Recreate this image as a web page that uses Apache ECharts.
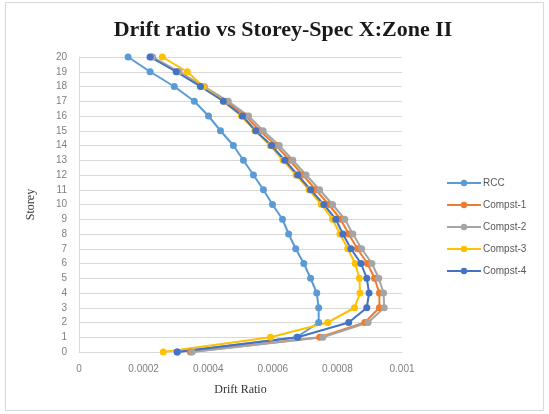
<!DOCTYPE html>
<html>
<head>
<meta charset="utf-8">
<script src="https://cdn.jsdelivr.net/npm/echarts@6/dist/echarts.min.js"></script>
<style>html,body{margin:0;padding:0;background:#fff}#c{width:549px;height:414px}</style>
</head>
<body>
<div id="c"></div>
<script>
var storeys = [0,1,2,3,4,5,6,7,8,9,10,11,12,13,14,15,16,17,18,19,20];
var xTicks = [0, 0.0002, 0.0004, 0.0006, 0.0008, 0.001];
var seriesNames = ['RCC','Compst-1','Compst-2','Compst-3','Compst-4'];
var rcc    = [0.000304,0.000674,0.000742,0.000742,0.000736,0.000717,0.000696,0.000671,0.000649,0.000630,0.000599,0.000571,0.000540,0.000509,0.000478,0.000438,0.000401,0.000357,0.000295,0.000220,0.000152];
var compst1= [0.000345,0.000745,0.000885,0.000930,0.000930,0.000915,0.000893,0.000862,0.000835,0.000810,0.000773,0.000733,0.000693,0.000652,0.000610,0.000560,0.000516,0.000455,0.000382,0.000305,0.000225];
var compst2= [0.000350,0.000755,0.000895,0.000945,0.000943,0.000928,0.000907,0.000875,0.000848,0.000823,0.000785,0.000745,0.000703,0.000662,0.000620,0.000570,0.000525,0.000462,0.000388,0.000310,0.000228];
var compst3= [0.000261,0.000593,0.000770,0.000853,0.000870,0.000868,0.000855,0.000832,0.000808,0.000785,0.000750,0.000712,0.000672,0.000632,0.000592,0.000545,0.000503,0.000447,0.000385,0.000335,0.000258];
var compst4= [0.000304,0.000677,0.000835,0.000891,0.000898,0.000891,0.000873,0.000842,0.000817,0.000795,0.000758,0.000717,0.000677,0.000637,0.000596,0.000547,0.000506,0.000447,0.000376,0.000301,0.000220];
var allValues = [rcc, compst1, compst2, compst3, compst4];
var colors = ['#5B9BD5','#ED7D31','#A5A5A5','#FFC000','#4472C4'];

function pairs(vals){ return vals.map(function(v,i){ return [v, storeys[i]]; }); }

var chart = echarts.init(document.getElementById('c'), null, {renderer:'canvas'});
chart.setOption({
  animation: false,
  backgroundColor: '#fff',
  color: colors,
  graphic: [{type:'rect', shape:{x:5.5,y:2.5,width:538,height:408}, style:{fill:'none', stroke:'#d9d9d9', lineWidth:1}, silent:true}],
  title: {
    text: 'Drift ratio vs Storey-Spec X:Zone II',
    left: 278, top: 14, textAlign: 'center',
    textStyle: {fontFamily:'Liberation Serif', fontWeight:'bold', fontSize:22, color:'#1a1a1a'}
  },
  legend: {
    orient: 'vertical', left: 441, top: 173, itemGap: 12,
    itemWidth: 34, itemHeight: 8,
    data: seriesNames,
    textStyle: {fontFamily:'Liberation Sans', fontSize: 10, color:'#595959', padding:[0,0,0,-3]}
  },
  grid: {left: 79, right: 147, top: 57, bottom: 62, containLabel: false},
  xAxis: {
    type: 'value', min: 0, max: 0.001, interval: 0.0002,
    name: 'Drift Ratio', nameLocation: 'middle', nameGap: 32,
    nameTextStyle: {fontFamily:'Liberation Serif', fontSize: 12, color:'#333'},
    axisLine: {show: true, lineStyle:{color:'#d9d9d9'}},
    axisTick: {show: false},
    splitLine: {show: false},
    axisLabel: {fontFamily:'Liberation Sans', fontSize: 10, color:'#7f7f7f', margin: 12,
      formatter: function(v){ return v === 0 ? '0' : String(+v.toFixed(4)); }}
  },
  yAxis: {
    type: 'value', min: 0, max: 20, interval: 1,
    name: 'Storey', nameLocation: 'middle', nameGap: 42, nameRotate: 90,
    nameTextStyle: {fontFamily:'Liberation Serif', fontSize: 12, color:'#333'},
    axisLine: {show: true, lineStyle:{color:'#d9d9d9'}},
    axisTick: {show: false},
    splitLine: {show: true, lineStyle:{color:'#d9d9d9', width:1}},
    axisLabel: {fontFamily:'Liberation Sans', fontSize: 10, color:'#7f7f7f', margin: 12}
  },
  series: seriesNames.map(function(n, k){
    return {
      name: n, type: 'line', data: pairs(allValues[k]),
      symbol: 'circle', symbolSize: 7,
      lineStyle: {width: 2, color: colors[k]},
      itemStyle: {color: colors[k]}
    };
  })
});
</script>
</body>
</html>
